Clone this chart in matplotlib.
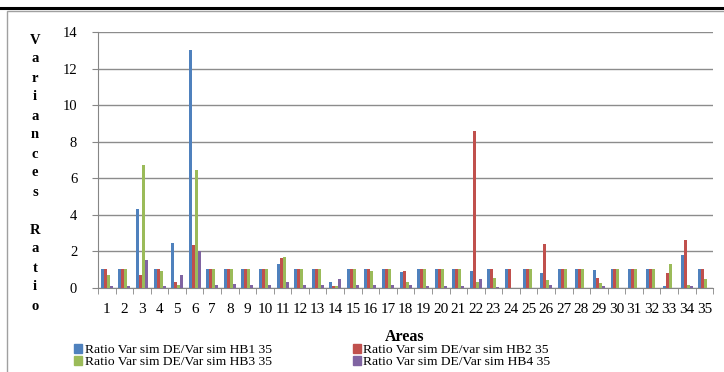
import matplotlib
matplotlib.use("Agg")
import matplotlib.pyplot as plt
from matplotlib.patches import Rectangle
from matplotlib.lines import Line2D
import numpy as np

plt.rcParams['font.family'] = ['Liberation Serif', 'DejaVu Serif']

areas = [str(i) for i in range(1, 36)]

hb1 = [1.0, 1.0, 4.3, 1.0, 2.46, 13.0, 1.0, 1.0, 1.0, 1.0,
       1.31, 1.0, 1.0, 0.33, 1.0, 1.0, 1.0, 0.84, 1.0, 1.0,
       1.0, 0.91, 1.0, 1.0, 1.0, 0.78, 1.0, 1.0, 0.95, 1.0,
       1.0, 1.0, 0.07, 1.77, 1.0]
hb2 = [1.0, 1.0, 0.68, 1.0, 0.33, 2.34, 1.0, 1.0, 1.0, 1.0,
       1.64, 1.0, 1.0, 0.11, 1.0, 1.0, 1.0, 0.91, 1.0, 1.0,
       1.0, 8.6, 1.0, 1.0, 1.0, 2.37, 1.0, 1.0, 0.51, 1.0,
       1.0, 1.0, 0.82, 2.61, 1.0]
hb3 = [0.69, 1.0, 6.7, 0.89, 0.13, 6.45, 1.0, 1.0, 1.0, 1.0,
       1.68, 1.0, 1.0, 0.11, 1.0, 0.94, 1.0, 0.31, 1.0, 1.0,
       1.0, 0.31, 0.51, 0.0, 1.0, 0.40, 1.0, 1.0, 0.26, 1.0,
       1.0, 1.0, 1.31, 0.15, 0.46]
hb4 = [0.11, 0.1, 1.53, 0.1, 0.68, 2.0, 0.13, 0.18, 0.17, 0.17,
       0.29, 0.17, 0.17, 0.47, 0.13, 0.13, 0.13, 0.13, 0.1, 0.1,
       0.1, 0.46, 0.02, 0.0, 0.0, 0.16, 0.0, 0.0, 0.07, 0.0,
       0.0, 0.0, 0.0, 0.09, 0.0]

series = [hb1, hb2, hb3, hb4]
labels = ["Ratio Var sim DE/Var sim HB1 35",
          "Ratio Var sim DE/var sim HB2 35",
          "Ratio Var sim DE/Var sim HB3 35",
          "Ratio Var sim DE/Var sim HB4 35"]
colors = ["#4F81BD", "#C0504D", "#9BBB59", "#8064A2"]
ylabel = "Variances Ratio"

fig = plt.figure(figsize=(7.24, 3.72), dpi=100)
ax = fig.add_axes([0.1354, 0.2266, 0.8496, 0.6874])

x = np.arange(len(areas))
w = 0.17
for i, (vals, c) in enumerate(zip(series, colors)):
    ax.bar(x + (i - 1.5) * w, vals, width=w, color=c, zorder=3)

ax.set_xlim(-0.5, len(areas) - 0.5)
ax.set_ylim(0, 14)
ax.set_yticks(np.arange(0, 15, 2))
ax.set_xticks(x)
ax.set_xticklabels(areas, fontsize=11)
ax.set_xticks(np.arange(-0.5, len(areas), 1), minor=True)
ax.tick_params(axis='x', which='major', length=0, pad=11)
ax.tick_params(axis='x', which='minor', length=4, color='#868686', direction='out')
ax.tick_params(axis='y', length=4, color='#868686', labelsize=10.5, pad=11)
ax.yaxis.grid(True, color='#8c8c8c', lw=1, zorder=0)

for s in ['top', 'right']:
    ax.spines[s].set_visible(False)
for s in ['left', 'bottom']:
    ax.spines[s].set_color('#868686')

# stacked vertical axis title, one letter per line
for k, ch in enumerate(ylabel):
    if ch == " ":
        continue
    fig.text(35 / 724, 1 - (40 + 19 * k) / 372, ch, ha='center', va='center',
             fontsize=10.5, fontweight='bold')

fig.text(405 / 724, 1 - 337 / 372, "Areas", ha='center', va='center',
         fontsize=11.5, fontweight='bold')

# legend is filled column by column, so order entries to read row-wise
order = [0, 2, 1, 3]
handles = [Rectangle((0, 0), 1, 1, color=colors[i]) for i in order]
fig.legend(handles, [labels[i] for i in order], loc='upper left',
           bbox_to_anchor=(74 / 724, 1 - 344 / 372),
           ncol=2, frameon=False, fontsize=9.7, handlelength=0.6, handleheight=0.6,
           handletextpad=0.2, columnspacing=6.0, labelspacing=0.0,
           borderpad=0, borderaxespad=0)

# page rule and chart frame
fig.add_artist(Line2D([0, 1], [1 - 7.7 / 372] * 2, color='black', lw=2.2))
fig.add_artist(Rectangle((7 / 724, -0.05), 1.0, 1 - 11 / 372 + 0.05,
                         fill=False, edgecolor='#a0a0a0', lw=1,
                         transform=fig.transFigure))

fig.savefig("out.png", dpi=100)
